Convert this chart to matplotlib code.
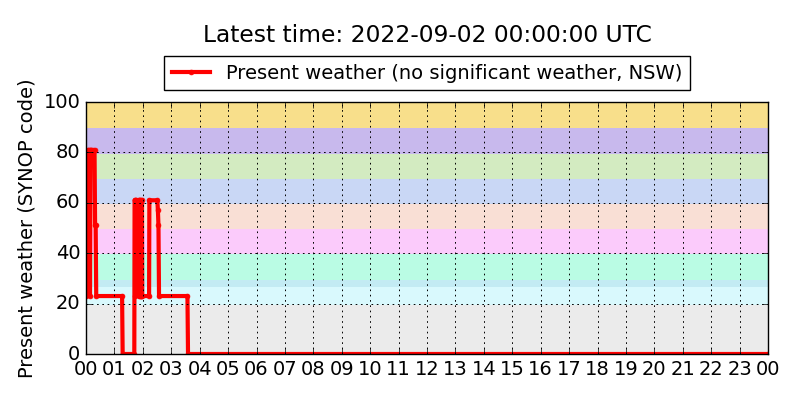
import matplotlib
matplotlib.use('Agg')
import matplotlib.pyplot as plt

# present weather record, hours since 2022-09-01 00:00 UTC
times = [0.00, 0.03, 0.06, 0.07, 0.13, 0.14, 0.16, 0.30, 0.32, 0.34, 0.36,
         1.27, 1.29, 1.70, 1.71, 1.73, 1.74, 1.76, 1.85, 1.86, 1.88, 1.89,
         1.91, 1.92, 1.94, 1.95, 1.97, 1.98, 2.22, 2.23, 2.51, 2.53, 2.55,
         2.57, 3.57, 3.59, 24.0]
codes = [23, 51, 51, 81, 81, 23, 81, 81, 51, 51, 23,
         23, 0, 0, 61, 61, 23, 61, 61, 23, 61, 23,
         61, 23, 61, 23, 61, 23, 23, 61, 61, 57, 51,
         23, 23, 0, 0]

# SYNOP code bands and their colours
band_edges = [0, 19.5, 26.5, 29.5, 39.5, 49.5, 59.5, 69.5, 79.5, 89.5, 100]
band_colors = ['#ebebeb', '#d9f9fd', '#c3ebf3', '#bafce4', '#fbcbfb',
               '#f9dfd5', '#c9d7f5', '#d3ebc1', '#c8b9ed', '#f8df8b']

hour_ticks = list(range(0, 25))
hour_labels = ['%02d' % (h % 24) for h in hour_ticks]

plt.style.use('classic')
plt.rcParams['font.size'] = 14
fig = plt.figure(figsize=(8, 4), facecolor='white')
ax = fig.add_axes([0.1075, 0.115, 0.8525, 0.63])

for i in range(len(band_colors)):
    ax.axhspan(band_edges[i], band_edges[i + 1], color=band_colors[i], lw=0, zorder=0)

ax.plot(times, codes, color='red', linewidth=3, marker='.', markersize=7,
        markeredgecolor='red', label='Present weather (no significant weather, NSW)')

ax.set_xlim(0, 24)
ax.set_ylim(0, 100)
ax.set_xticks(hour_ticks)
ax.set_xticklabels(hour_labels)
ax.set_yticks([0, 20, 40, 60, 80, 100])
ax.tick_params(labelsize=14)
ax.grid(True, color='black', linestyle=(0, (1.2, 2.6)), linewidth=0.7)
ax.set_ylabel('Present weather (SYNOP code)', fontsize=14)

ax.legend(loc='lower center', bbox_to_anchor=(0.5, 1.0), borderaxespad=0.6,
          numpoints=1, fontsize=14)
fig.suptitle('Latest time: 2022-09-02 00:00:00 UTC', x=0.534, y=0.9125,
             va='center', fontsize=16.8)

fig.savefig('out.png', dpi=100, facecolor='white')
